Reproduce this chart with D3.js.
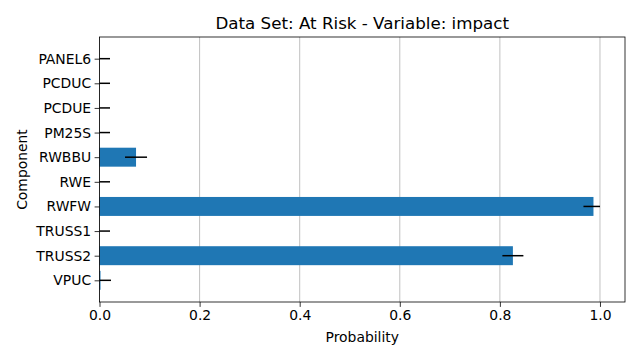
<!DOCTYPE html>
<html><head><meta charset="utf-8">
<script src="https://cdn.jsdelivr.net/npm/d3@7"></script>
<style>body{margin:0;background:#fff}text{font-family:"DejaVu Sans",sans-serif;fill:#000}</style>
</head><body><svg id="c" width="640" height="360"></svg>
<script>
const categories = ["PANEL6","PCDUC","PCDUE","PM25S","RWBBU","RWE","RWFW","TRUSS1","TRUSS2","VPUC"];
const values     = [0, 0, 0, 0, 0.073, 0, 0.987, 0, 0.826, 0.002];
const errLow     = [0, 0, 0, 0, 0.051, 0, 0.967, 0, 0.805, 0];
const errHigh    = [0.021, 0.021, 0.021, 0.021, 0.095, 0.021, 1.0, 0.021, 0.847, 0.023];
const xTicks     = [0, 0.2, 0.4, 0.6, 0.8, 1.0];

const svg = d3.select("#c");
const L = 99.5, R = 625, T = 37, B = 302;
const n = categories.length, h = 0.77;
const x = d3.scaleLinear().domain([0, 1.05]).range([L, R]);
const pad = 0.4 + 0.049 * (n - 1 + 0.8);
const y = d3.scaleLinear().domain([-pad, n - 1 + pad]).range([T, B]);

// grid
svg.append("g").selectAll("line").data(xTicks).join("line")
  .attr("x1", d => x(d)).attr("x2", d => x(d)).attr("y1", T).attr("y2", B)
  .attr("stroke", "#b0b0b0").attr("stroke-width", 0.8);

// bars
svg.append("g").selectAll("rect").data(categories).join("rect")
  .attr("x", x(0)).attr("y", (d, i) => y(i - h / 2))
  .attr("width", (d, i) => x(values[i]) - x(0))
  .attr("height", y(h) - y(0))
  .attr("fill", "#1f77b4");

// error bars
svg.append("g").selectAll("line").data(categories).join("line")
  .attr("x1", (d, i) => x(errLow[i])).attr("x2", (d, i) => x(errHigh[i]))
  .attr("y1", (d, i) => y(i)).attr("y2", (d, i) => y(i))
  .attr("stroke", "#000").attr("stroke-width", 1.5);

// axes
const xAxis = d3.axisBottom(x).tickValues(xTicks).tickFormat(d3.format(".1f")).tickSizeOuter(0).tickSize(4.9).tickPadding(3.5);
const gx = svg.append("g").attr("transform", `translate(0,${B})`).call(xAxis);
gx.select(".domain").remove();
gx.selectAll("text").style("font-size", "13.9px").style("font-family", "DejaVu Sans").attr("fill", "#000");
gx.selectAll("line").attr("stroke-width", 0.8);

const yAxis = d3.axisLeft(y).tickValues(d3.range(n)).tickFormat(i => categories[i]).tickSizeOuter(0).tickSize(4.9).tickPadding(3.5);
const gy = svg.append("g").attr("transform", `translate(${L},0)`).call(yAxis);
gy.select(".domain").remove();
gy.selectAll("text").style("font-size", "13.9px").style("font-family", "DejaVu Sans").attr("fill", "#000");
gy.selectAll("line").attr("stroke-width", 0.8);

// frame
svg.append("rect").attr("x", L).attr("y", T).attr("width", R - L).attr("height", B - T)
  .attr("fill", "none").attr("stroke", "#000").attr("stroke-width", 0.8);

// labels
svg.append("text").attr("x", (L + R) / 2).attr("y", 29).attr("text-anchor", "middle")
  .style("font-size", "16.7px").text("Data Set: At Risk - Variable: impact");
svg.append("text").attr("x", (L + R) / 2).attr("y", 342).attr("text-anchor", "middle")
  .style("font-size", "13.9px").text("Probability");
svg.append("text").attr("transform", `translate(27,${(T + B) / 2}) rotate(-90)`).attr("text-anchor", "middle")
  .style("font-size", "13.9px").text("Component");
</script></body></html>
